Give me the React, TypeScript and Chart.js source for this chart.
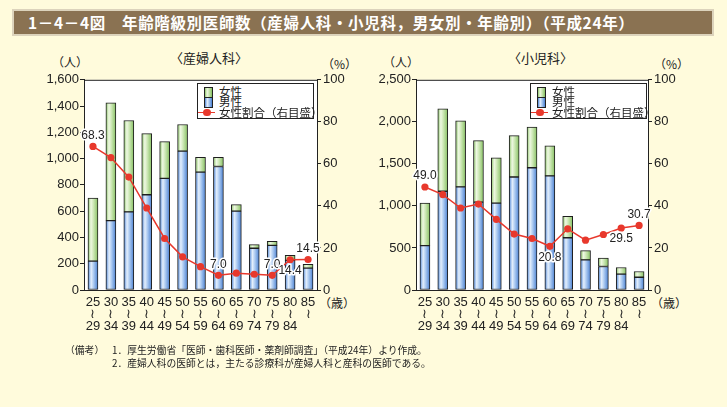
import React, { useEffect, useRef } from "react";
import { Chart, registerables } from "chart.js";

Chart.register(...registerables);

// ---------- data ----------
const ageLabels: string[][] = [
  ["25", "≀", "29"],
  ["30", "≀", "34"],
  ["35", "≀", "39"],
  ["40", "≀", "44"],
  ["45", "≀", "49"],
  ["50", "≀", "54"],
  ["55", "≀", "59"],
  ["60", "≀", "64"],
  ["65", "≀", "69"],
  ["70", "≀", "74"],
  ["75", "≀", "79"],
  ["80", "≀", "84"],
  ["85", "≀", ""],
];

// 産婦人科
const obMale = [220, 528, 595, 725, 850, 1057, 897, 940, 600, 318, 340, 226, 166];
const obFemale = [480, 897, 695, 465, 280, 203, 113, 70, 50, 27, 30, 38, 30];
const obRatio = [68.3, 63.0, 53.7, 39.0, 24.5, 15.8, 11.1, 7.0, 8.0, 7.5, 7.0, 14.4, 14.5];
const obLabeled: [number, "up" | "down"][] = [
  [0, "up"], [7, "up"], [10, "up"], [11, "down"], [12, "up"],
];
const obMax = 1600;
const obStep = 200;

// 小児科
const pedMale = [528, 1175, 1226, 1046, 1034, 1344, 1454, 1357, 621, 358, 280, 189, 152];
const pedFemale = [507, 979, 787, 731, 538, 492, 484, 357, 255, 110, 101, 79, 68];
const pedRatio = [49.0, 45.4, 39.0, 40.9, 33.6, 26.6, 24.5, 20.8, 29.1, 23.7, 26.4, 29.5, 30.7];
const pedLabeled: [number, "up" | "down"][] = [
  [0, "up"], [7, "down"], [11, "down"], [12, "up"],
];
const pedMax = 2500;
const pedStep = 500;

const ratioMax = 100;
const ratioStep = 20;

const legendLabels = ["女性", "男性", "女性割合（右目盛）"];

// ---------- styles ----------
const BG = "#fffbdc";
const RED = "#e8382c";
const GREEN_STOPS: [number, string][] = [
  [0, "#8ec66c"], [0.3, "#eef8e2"], [0.55, "#cde8b6"], [1, "#86c062"],
];
const BLUE_STOPS: [number, string][] = [
  [0, "#4f86d6"], [0.32, "#e4effc"], [0.58, "#a9c8f0"], [1, "#4a80d2"],
];
const LATIN = "'Liberation Sans', Arial, sans-serif";
const CJK = "'Noto Sans CJK JP', 'Noto Sans', sans-serif";
const BAR_W = 10;

function barGradient(stops: [number, string][], fallback: string) {
  return (ctx: any) => {
    const chart = ctx.chart;
    if (!chart.chartArea || ctx.dataIndex === undefined || !chart.scales.x) return fallback;
    const x = chart.scales.x.getPixelForValue(ctx.dataIndex);
    const g = chart.ctx.createLinearGradient(x - BAR_W / 2, 0, x + BAR_W / 2, 0);
    stops.forEach(([o, c]) => g.addColorStop(o, c));
    return g;
  };
}

function cssGradient(stops: [number, string][]) {
  return `linear-gradient(to right, ${stops.map(([o, c]) => `${c} ${o * 100}%`).join(", ")})`;
}

const plotBgPlugin = {
  id: "plotBg",
  beforeDraw(chart: any) {
    const { ctx, chartArea: a } = chart;
    ctx.save();
    ctx.fillStyle = "#ffffff";
    ctx.fillRect(a.left, a.top, a.right - a.left, a.bottom - a.top);
    ctx.restore();
  },
  afterDraw(chart: any) {
    const { ctx, chartArea: a } = chart;
    ctx.save();
    ctx.strokeStyle = "#222";
    ctx.lineWidth = 1;
    ctx.beginPath();
    ctx.moveTo(a.left, a.top + 0.5);
    ctx.lineTo(a.right, a.top + 0.5);
    ctx.stroke();
    ctx.restore();
  },
};

function makeLabelPlugin(labeled: [number, "up" | "down"][], ratio: number[]) {
  return {
    id: "ratioLabels",
    afterDatasetsDraw(chart: any) {
      const meta = chart.getDatasetMeta(2);
      const ctx = chart.ctx;
      ctx.save();
      ctx.font = `12px ${LATIN}`;
      ctx.textAlign = "center";
      ctx.textBaseline = "middle";
      ctx.lineJoin = "round";
      labeled.forEach(([i, dir]) => {
        const pt = meta.data[i];
        if (!pt) return;
        const y = dir === "up" ? pt.y - 11 : pt.y + 11;
        const t = ratio[i].toFixed(1);
        ctx.strokeStyle = "#ffffff";
        ctx.lineWidth = 3;
        ctx.strokeText(t, pt.x, y);
        ctx.fillStyle = "#222";
        ctx.fillText(t, pt.x, y);
      });
      ctx.restore();
    },
  };
}

type PanelProps = {
  left: number;
  male: number[];
  female: number[];
  ratio: number[];
  labeled: [number, "up" | "down"][];
  max: number;
  step: number;
  rightWidth: number;
};

function ChartPanel(p: PanelProps) {
  const ref = useRef<HTMLCanvasElement | null>(null);
  useEffect(() => {
    if (!ref.current) return;
    const tickFont = { family: LATIN, size: 13 };
    const chart = new Chart(ref.current, {
      type: "bar",
      data: {
        labels: ageLabels as any,
        datasets: [
          {
            type: "bar",
            label: legendLabels[1],
            data: p.male,
            backgroundColor: barGradient(BLUE_STOPS, "#7aa8e4"),
            borderColor: "#1e1e1e",
            borderWidth: 1,
            borderSkipped: false,
            barThickness: BAR_W,
            stack: "s",
            yAxisID: "y",
            order: 1,
          } as any,
          {
            type: "bar",
            label: legendLabels[0],
            data: p.female,
            backgroundColor: barGradient(GREEN_STOPS, "#b6dc98"),
            borderColor: "#1e1e1e",
            borderWidth: 1,
            borderSkipped: false,
            barThickness: BAR_W,
            stack: "s",
            yAxisID: "y",
            order: 1,
          } as any,
          {
            type: "line",
            label: legendLabels[2],
            data: p.ratio,
            borderColor: RED,
            backgroundColor: RED,
            borderWidth: 1.5,
            pointRadius: 3.6,
            pointBorderWidth: 0,
            pointBackgroundColor: RED,
            yAxisID: "y1",
            order: 0,
            tension: 0,
          } as any,
        ],
      },
      options: {
        responsive: false,
        animation: false,
        layout: { padding: { top: 8, left: 0, right: 0, bottom: 0 } },
        plugins: { legend: { display: false }, tooltip: { enabled: false } },
        scales: {
          x: {
            stacked: true,
            grid: { display: false, drawTicks: false },
            border: { display: true, color: "#222", width: 1 },
            ticks: {
              font: { ...tickFont, lineHeight: 0.9 },
              color: "#222",
              padding: 7,
              maxRotation: 0,
              autoSkip: false,
            },
            afterFit: (s: any) => { s.height = 60; },
          },
          y: {
            position: "left",
            stacked: true,
            min: 0,
            max: p.max,
            ticks: {
              stepSize: p.step,
              font: tickFont,
              color: "#222",
              padding: 1,
              callback: (v: any) => Number(v).toLocaleString("en-US"),
            },
            grid: { drawOnChartArea: false, drawTicks: true, tickLength: 4, color: "#222" },
            border: { display: true, color: "#222", width: 1 },
            afterFit: (s: any) => { s.width = 64; },
          },
          y1: {
            position: "right",
            min: 0,
            max: ratioMax,
            ticks: { stepSize: ratioStep, font: tickFont, color: "#222", padding: 2 },
            grid: { drawOnChartArea: false, drawTicks: true, tickLength: 4, color: "#222" },
            border: { display: true, color: "#222", width: 1 },
            afterFit: (s: any) => { s.width = p.rightWidth; },
          },
        },
      } as any,
      plugins: [plotBgPlugin, makeLabelPlugin(p.labeled, p.ratio)],
    });
    return () => chart.destroy();
  }, []);
  return (
    <canvas
      ref={ref}
      width={345}
      height={280}
      style={{ position: "absolute", left: p.left, top: 70, width: 345, height: 280 }}
    />
  );
}

function Legend({ left, width }: { left: number; width: number }) {
  const sw = (stops: [number, string][]) => (
    <span
      style={{
        position: "absolute",
        left: 6,
        top: 1,
        width: 7,
        height: 9,
        border: "1px solid #222",
        background: cssGradient(stops),
      }}
    />
  );
  const row: React.CSSProperties = {
    position: "relative",
    height: 10.7,
    lineHeight: "11px",
    paddingLeft: 21,
    whiteSpace: "nowrap",
  };
  return (
    <div
      style={{
        position: "absolute",
        left,
        top: 83,
        width,
        height: 36,
        boxSizing: "border-box",
        border: "1px solid #222",
        background: "#fff",
        fontFamily: CJK,
        fontSize: 11.5,
        color: "#222",
        paddingTop: 1.5,
      }}
    >
      <div style={row}>{sw(GREEN_STOPS)}{legendLabels[0]}</div>
      <div style={row}>{sw(BLUE_STOPS)}{legendLabels[1]}</div>
      <div style={row}>
        <span style={{ position: "absolute", left: 0, top: 5, width: 17, height: 1.5, background: RED }} />
        <span style={{ position: "absolute", left: 5, top: 2, width: 7.5, height: 7.5, borderRadius: "50%", background: RED }} />
        {legendLabels[2]}
      </div>
    </div>
  );
}

const txt = (style: React.CSSProperties, s: string, size = 12) => (
  <div
    style={{
      position: "absolute",
      fontFamily: CJK,
      fontSize: size,
      color: "#222",
      whiteSpace: "nowrap",
      lineHeight: 1,
      ...style,
    }}
  >
    {s}
  </div>
);

export default function App() {
  return (
    <div
      style={{
        position: "absolute",
        left: 0,
        top: 0,
        width: 727,
        height: 407,
        background: BG,
        overflow: "hidden",
      }}
    >
      <div
        style={{
          position: "absolute",
          left: 12,
          top: 9,
          width: 702,
          height: 27,
          boxSizing: "border-box",
          background: "#8a7252",
          border: "2px solid #dcd3bc",
          color: "#fff",
          fontFamily: CJK,
          fontWeight: 700,
          fontSize: 15.5,
          letterSpacing: 0.65,
          lineHeight: "23px",
          paddingLeft: 14,
          whiteSpace: "nowrap",
        }}
      >
        1－4－4図　年齢階級別医師数（産婦人科・小児科，男女別・年齢別）（平成24年）
      </div>

      {txt({ left: 52, top: 56 }, "（人）", 12)}
      {txt({ left: 170, top: 51 }, "〈産婦人科〉", 13)}
      {txt({ left: 322, top: 58 }, "（%）", 12)}
      {txt({ left: 319, top: 297 }, "（歳）", 12)}

      {txt({ left: 383, top: 56 }, "（人）", 12)}
      {txt({ left: 508, top: 51 }, "〈小児科〉", 13)}
      {txt({ left: 654, top: 58 }, "（%）", 12)}
      {txt({ left: 651, top: 297 }, "（歳）", 12)}

      <ChartPanel
        left={20}
        male={obMale}
        female={obFemale}
        ratio={obRatio}
        labeled={obLabeled}
        max={obMax}
        step={obStep}
        rightWidth={48}
      />
      <ChartPanel
        left={352}
        male={pedMale}
        female={pedFemale}
        ratio={pedRatio}
        labeled={pedLabeled}
        max={pedMax}
        step={pedStep}
        rightWidth={49}
      />
      <Legend left={197} width={117} />
      <Legend left={530} width={117} />

      {txt({ left: 65, top: 346 }, "（備考）", 9.8)}
      {txt({ left: 112, top: 346 }, "1．厚生労働省「医師・歯科医師・薬剤師調査」（平成24年）より作成。", 9.8)}
      {txt({ left: 112, top: 359 }, "2．産婦人科の医師とは，主たる診療科が産婦人科と産科の医師である。", 9.8)}
    </div>
  );
}
